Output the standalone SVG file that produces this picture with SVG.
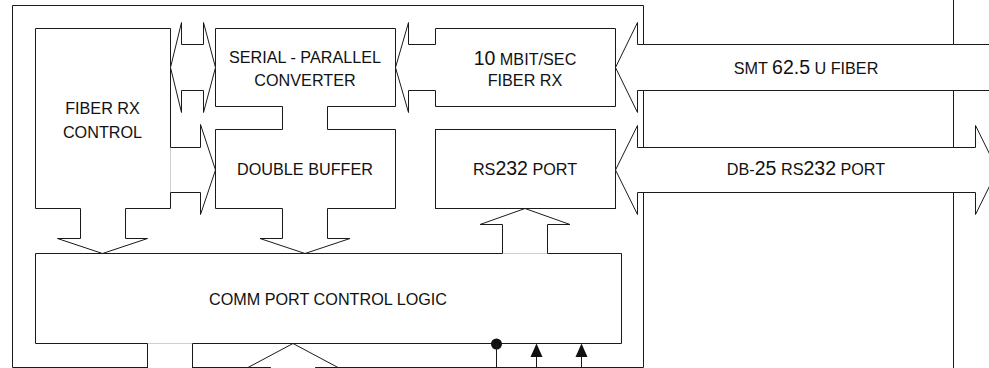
<svg xmlns="http://www.w3.org/2000/svg" width="989" height="368" viewBox="0 0 989 368">
<style>
.ln{fill:none;stroke:#1a1a1a;stroke-width:1}
.ar{fill:#fff;stroke:#1a1a1a;stroke-width:1}
.faint{fill:none;stroke:#d0d0d0;stroke-width:1}
text{font-family:"Liberation Sans",Arial,sans-serif;font-size:16.2px;fill:#111;text-anchor:middle}
.big{font-size:19.5px}
</style>
<rect width="989" height="368" fill="#fff"/>
<g id="frame">
<path class="ln" d="M12.5,5.5 H643.5 V44.5 M643.5,90.5 V147.5 M643.5,192.5 V367.5 H315.5 M270.5,367.5 H192.5 M147.5,367.5 H12.5 V5.5"/>
<path class="ln" d="M953.5,0 V44.5 M953.5,90.5 V147.5 M953.5,192.5 V368"/>
</g>
<g id="fiber-rx-control">
<path class="ln" d="M170.5,147.5 V28.5 H35.5 V208.5 H80.5 M125.5,208.5 H170.5 V192.5"/>
<path class="faint" d="M170.5,148 V192"/>
<text x="102.5" y="113.5">FIBER RX</text>
<text x="102.5" y="137.5">CONTROL</text>
</g>
<g id="serial-parallel-converter">
<path class="ln" d="M282.5,106.5 H215.5 V28.5 H395.5 V106.5 H327.5"/>
<text x="305" y="62.5">SERIAL - PARALLEL</text>
<text x="305" y="85.5">CONVERTER</text>
</g>
<g id="fiber-rx">
<path class="ln" d="M435.5,44.5 V28.5 H615.5 V106.5 H435.5 V90.5"/>
<text x="525" y="65"><tspan class="big">10</tspan> MBIT/SEC</text>
<text x="525" y="86">FIBER RX</text>
</g>
<g id="double-buffer">
<path class="ln" d="M282.5,129.5 H215.5 V208.5 H282.5 M327.5,208.5 H395.5 V129.5 H327.5"/>
<text x="305" y="175">DOUBLE BUFFER</text>
</g>
<g id="rs232-port">
<rect class="ln" x="435.5" y="129.5" width="180" height="79"/>
<text x="525" y="175">RS<tspan class="big">232</tspan> PORT</text>
</g>
<g id="comm-port-control-logic">
<path class="ln" d="M502.5,253.5 H35.5 V343.5 H147.5 M192.5,343.5 H621.5 V253.5 H547.5"/>
<path class="faint" d="M503,253.5 H547 M148,343.5 H192"/>
<text x="328" y="305">COMM PORT CONTROL LOGIC</text>
</g>
<g id="connectors">
<path class="ar" d="M170.5,67.5 L181.5,22.5 V44.5 H203.5 V22.5 L215.5,67.5 L203.5,112.5 V90.5 H181.5 V112.5 Z"/>
<path class="ln" d="M435.5,44.5 H408.5 V22.5 L395.5,67.5 L408.5,112.5 V90.5 H435.5"/>
<path class="ln" d="M995,44.5 H637.5 V22.5 L615.5,67.5 L637.5,112.5 V90.5 H995"/>
<text x="806" y="74">SMT <tspan class="big">62.5</tspan> U FIBER</text>
<path class="ar" d="M637.5,147.5 H975.5 V125.5 L997.5,170 L975.5,214.5 V192.5 H637.5 V214.5 L615.5,170 L637.5,125.5 Z"/>
<text x="806" y="175">DB-<tspan class="big">25</tspan> RS<tspan class="big">232</tspan> PORT</text>
<path class="ln" d="M170.5,147.5 H200.5 V124.5 L215.5,170 L200.5,214.5 V192.5 H170.5"/>
<path class="ln" d="M80.5,208.5 V238.5 H57.5 L102.5,253.5 L147.5,238.5 H125.5 V208.5"/>
<path class="ln" d="M282.5,208.5 V238.5 H260 L305,253.5 L350,238.5 H327.5 V208.5"/>
<path class="ln" d="M502.5,253.5 V224.5 H480 L525,208.5 L570,224.5 H547.5 V253.5"/>
<path class="ln" d="M282.5,106.5 V129.5 M327.5,106.5 V129.5"/>
<path class="ln" d="M147.5,343.5 V370 M192.5,343.5 V370"/>
<path class="ln" d="M270.5,370 V367.5 H248 L293,343.5 L338,367.5 H315.5 V370"/>
<circle cx="496.5" cy="344" r="5.5" fill="#111"/>
<path class="ln" d="M496.5,344 V368 M536.5,356 V368 M581.5,356 V368"/>
<polygon points="536.5,343.5 530.5,357 542.5,357" fill="#111"/>
<polygon points="581.5,343.5 575.5,357 587.5,357" fill="#111"/>
</g>
</svg>
